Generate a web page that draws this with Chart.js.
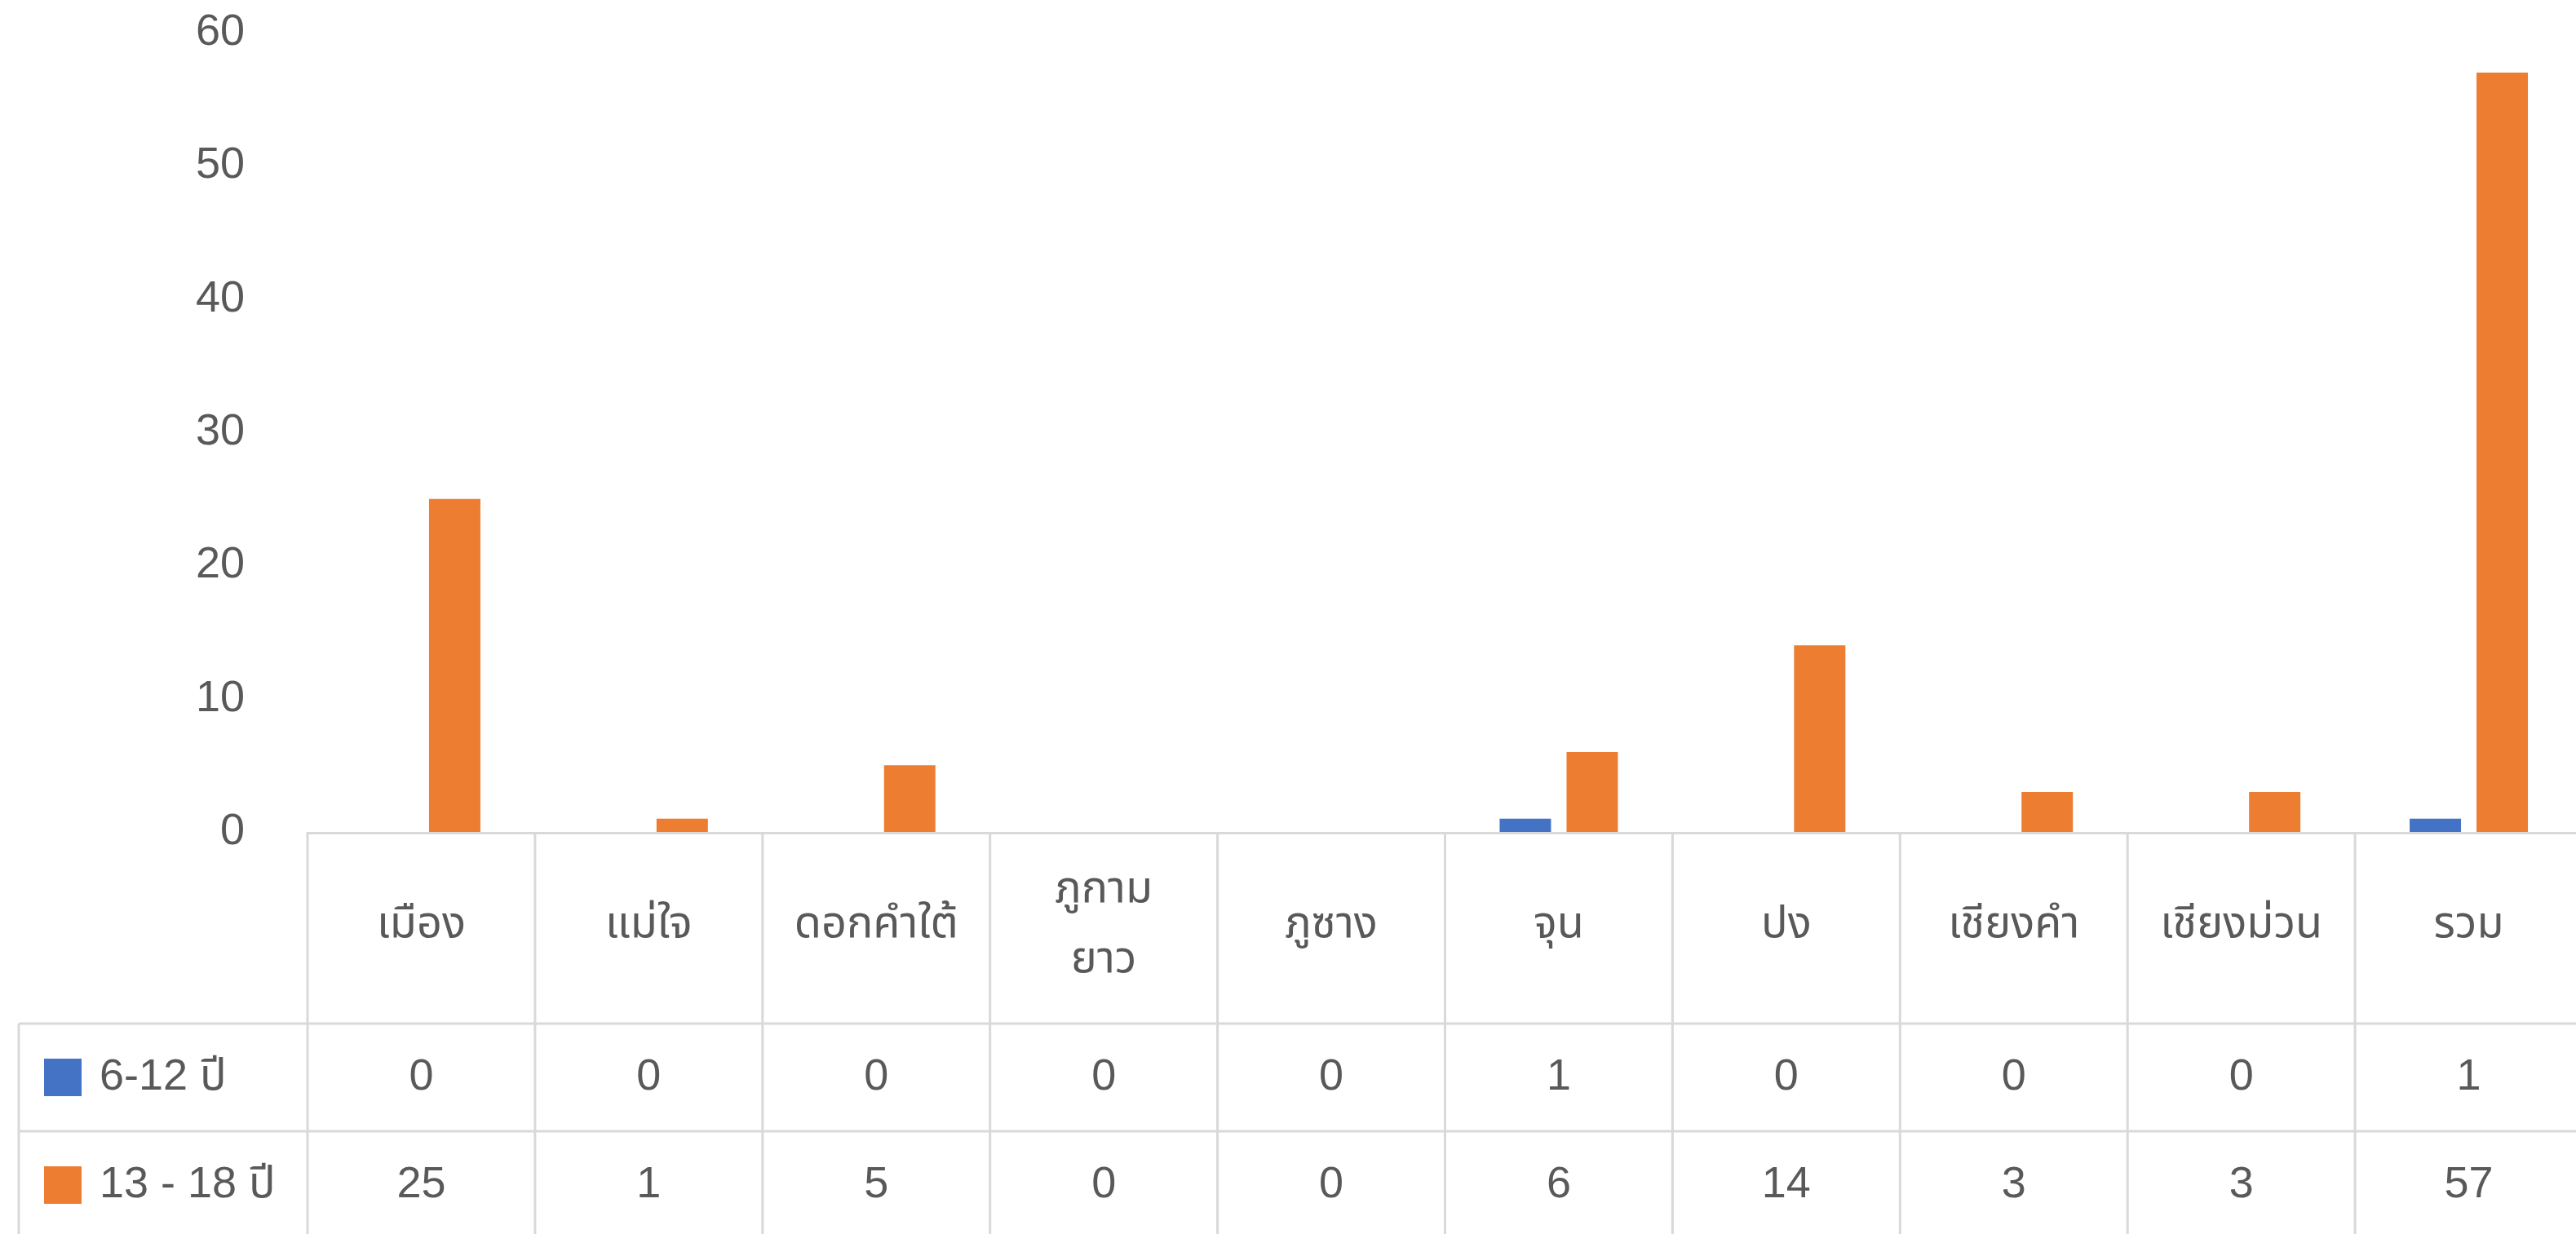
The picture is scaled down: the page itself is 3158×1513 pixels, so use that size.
<!DOCTYPE html>
<html><head><meta charset="utf-8">
<script src="https://cdn.jsdelivr.net/npm/chart.js@4.4.0/dist/chart.umd.min.js"></script>
<style>html,body{margin:0;padding:0;background:#fff;overflow:hidden;}canvas{display:block;}</style>
</head><body>
<canvas id="c" width="3170" height="1525"></canvas>
<script>
const categories = ['เมือง', 'แม่ใจ', 'ดอกคำใต้', ['ภูกาม', 'ยาว'], 'ภูซาง', 'จุน', 'ปง', 'เชียงคำ', 'เชียงม่วน', 'รวม'];
const seriesNames = ['6-12 ปี', '13 - 18 ปี'];
const age6to12 = [0, 0, 0, 0, 0, 1, 0, 0, 0, 1];
const age13to18 = [25, 1, 5, 0, 0, 6, 14, 3, 3, 57];
const yTickValues = [0, 10, 20, 30, 40, 50, 60];

const FONT = '"Liberation Sans", Arial, "Noto Sans Thai", Tahoma, "DejaVu Sans", sans-serif';
const TEXT = '#595959';
const BORDER = '#d9d9d9';

const tablePlugin = {
  id: 'dataTable',
  afterDraw(chart) {
    const ctx = chart.ctx, xs = chart.scales.x, area = chart.chartArea;
    const labels = chart.data.labels;
    const n = labels.length;
    const colW = (area.right - area.left) / n;
    const top = area.bottom;
    const r1 = top + 235, r2 = r1 + 132, r3 = r2 + 132;
    const leftEdge = 23;
    ctx.save();
    ctx.strokeStyle = BORDER;
    ctx.lineWidth = 3;
    ctx.beginPath();
    ctx.moveTo(area.left, top + 1.5); ctx.lineTo(area.right, top + 1.5);
    [r1, r2, r3].forEach(y => { ctx.moveTo(leftEdge, y); ctx.lineTo(area.right, y); });
    ctx.moveTo(leftEdge, r1); ctx.lineTo(leftEdge, r3);
    for (let i = 0; i <= n; i++) {
      const bx = i < n ? xs.getPixelForValue(i) - colW / 2 : xs.getPixelForValue(n - 1) + colW / 2;
      ctx.moveTo(bx, top); ctx.lineTo(bx, r3);
    }
    ctx.stroke();

    ctx.fillStyle = TEXT;
    ctx.font = '54px ' + FONT;
    ctx.textAlign = 'center';
    ctx.textBaseline = 'middle';
    const catMid = (top + r1) / 2;
    labels.forEach((lab, i) => {
      const cx = xs.getPixelForValue(i);
      const lines = Array.isArray(lab) ? lab : [lab];
      const lh = 86;
      lines.forEach((t, k) => {
        ctx.fillText(t, cx, catMid - 3 + (k - (lines.length - 1) / 2) * lh);
      });
    });
    const rowMids = [(r1 + r2) / 2, (r2 + r3) / 2];
    chart.data.datasets.forEach((ds, d) => {
      const y = rowMids[d];
      ds.data.forEach((v, i) => {
        ctx.fillText(String(v), xs.getPixelForValue(i), y);
      });
      ctx.fillStyle = ds.backgroundColor;
      ctx.fillRect(54, y - 23, 46, 46);
      ctx.fillStyle = TEXT;
      ctx.textAlign = 'left';
      ctx.fillText(ds.label, 122, y);
      ctx.textAlign = 'center';
    });
    ctx.restore();
  }
};

new Chart(document.getElementById('c'), {
  type: 'bar',
  data: {
    labels: categories,
    datasets: [
      { label: seriesNames[0], data: age6to12, backgroundColor: '#4472C4' },
      { label: seriesNames[1], data: age13to18, backgroundColor: '#ED7D31' }
    ]
  },
  options: {
    responsive: false,
    animation: false,
    devicePixelRatio: 1,
    layout: { padding: { top: 40, right: 4, bottom: 505, left: 0 } },
    datasets: { bar: { barPercentage: 0.768, categoryPercentage: 0.588 } },
    plugins: { legend: { display: false }, tooltip: { enabled: false } },
    scales: {
      x: { display: false },
      y: {
        min: 0, max: 60,
        afterBuildTicks(scale) { scale.ticks = yTickValues.map(v => ({ value: v })); },
        afterFit(scale) { scale.width = 377; scale.paddingTop = 0; scale.paddingBottom = 0; },
        grid: { display: false, drawTicks: false },
        border: { display: false },
        ticks: { font: { size: 54, family: FONT }, color: TEXT, padding: 77 }
      }
    }
  },
  plugins: [tablePlugin]
});
</script>
</body></html>
